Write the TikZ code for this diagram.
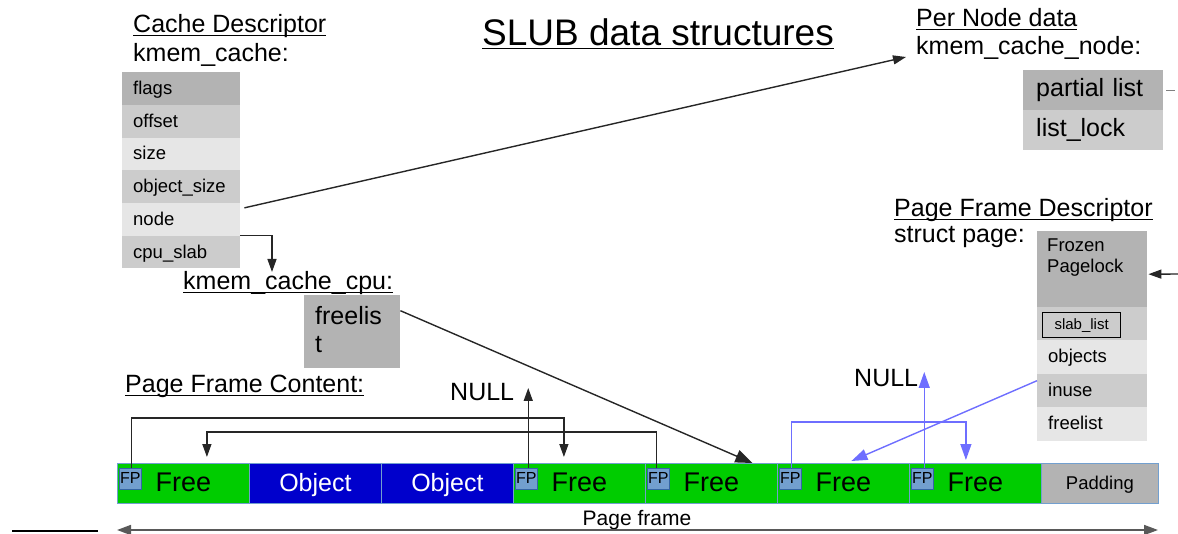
\documentclass[tikz,border=0pt]{standalone}
\usepackage{fontspec}
\setmainfont{Liberation Sans}
\usetikzlibrary{arrows.meta,calc}

\definecolor{gA}{HTML}{B3B3B3}
\definecolor{gB}{HTML}{CCCCCC}
\definecolor{gC}{HTML}{E6E6E6}
\definecolor{frgreen}{HTML}{00CC00}
\definecolor{objblue}{HTML}{0000CC}
\definecolor{fpfill}{HTML}{729FCF}
\definecolor{fpedge}{HTML}{3465A4}
\definecolor{segedge}{HTML}{729FCF}
\definecolor{ptrblue}{HTML}{6E6EFF}

\newcommand\fs[1]{\fontsize{#1}{#1}\selectfont}
\newcommand\ulined[1]{\leavevmode\setbox0\hbox{#1}\copy0\kern-\wd0\rule[-3.5pt]{\wd0}{1.2pt}}

\tikzset{
  heading/.style={anchor=base west, inner sep=0pt, font=\fs{25}},
  field/.style={anchor=north west, inner xsep=11pt, inner ysep=0pt,
    text width=#1, align=left, font=\fs{18.5}, text height=14pt, text depth=2pt},
  bigfield/.style={anchor=north west, inner xsep=13pt, inner ysep=0pt,
    text width=#1, align=left, font=\fs{25}, text height=17pt, text depth=4pt},
  seg/.style={anchor=north west, minimum width=132pt, minimum height=40pt,
    inner sep=0pt, draw=segedge, line width=0.8pt, text height=18pt, text depth=2pt},
  freeseg/.style={seg, fill=frgreen, font=\fs{27}},
  objseg/.style={seg, fill=objblue, text=white, font=\fs{25}},
  fpbox/.style={anchor=north west, minimum width=22pt, minimum height=21pt,
    inner sep=0pt, fill=fpfill, draw=fpedge, line width=0.5pt,
    font=\fs{16}, text height=12pt, text depth=3pt},
  ptr/.style={draw=black!85, line width=1.4pt, -{Triangle[length=13pt,width=9pt]}},
  bptr/.style={draw=ptrblue, line width=1.4pt, -{Triangle[length=16pt,width=11pt]}},
}

\begin{document}
\begin{tikzpicture}[x=1pt, y=-1pt]
\useasboundingbox (0,0) rectangle (1178,534);

% ---------- title ----------
\node[heading, font=\fs{37}] (title) at (482,46) {\ulined{SLUB data structures}};

% ---------- kmem_cache ----------
\node[heading] (kchd1) at (133,33) {\ulined{Cache Descriptor}};
\node[heading] (kchd2) at (133,62) {kmem\_cache:};
\node[field=96pt, fill=gA, minimum height=32.7pt] (kc1) at (122,72)    {flags};
\node[field=96pt, fill=gB, minimum height=32.7pt] (kc2) at (122,104.7) {offset};
\node[field=96pt, fill=gC, minimum height=32.7pt] (kc3) at (122,137.4) {size};
\node[field=96pt, fill=gB, minimum height=32.7pt] (kc4) at (122,170.1) {object\_size};
\node[field=96pt, fill=gC, minimum height=32.7pt] (kc5) at (122,202.8) {node};
\node[field=96pt, fill=gB, minimum height=32.7pt] (kc6) at (122,235.5) {cpu\_slab};

% ---------- kmem_cache_cpu ----------
\node[heading] (cpuhd) at (183,290) {\ulined{kmem\_cache\_cpu:}};
\node[anchor=north west, fill=gA, minimum width=96pt, minimum height=73pt, inner sep=0pt] (fl) at (304,295) {};
\node[anchor=base west, inner sep=0pt, font=\fs{25}] (fltxt1) at (315,325) {freelis};
\node[anchor=base west, inner sep=0pt, font=\fs{25}] (fltxt2) at (315,353) {t};

% ---------- kmem_cache_node ----------
\node[heading] (nodehd1) at (916,27) {\ulined{Per Node data}};
\node[heading] (nodehd2) at (916,55) {kmem\_cache\_node:};
\node[bigfield=114pt, fill=gA, minimum height=40pt] (npartial) at (1023,70)  {partial list};
\node[bigfield=114pt, fill=gB, minimum height=40pt] (nlock)    at (1023,110) {list\_lock};

% ---------- struct page ----------
\node[heading] (pghd1) at (894,217) {\ulined{Page Frame Descriptor}};
\node[heading] (pghd2) at (894,243) {struct page:};
\node[anchor=north west, fill=gA, minimum width=110pt, minimum height=76pt, inner sep=0pt] (pfrozen) at (1037,231) {};
\node[anchor=base west, inner sep=0pt, font=\fs{18.5}] (frz1) at (1047,252) {Frozen};
\node[anchor=base west, inner sep=0pt, font=\fs{18.5}] (frz2) at (1047,273) {Pagelock};
\node[anchor=north west, fill=gB, minimum width=110pt, minimum height=33pt, inner sep=0pt] (pslab) at (1037,307) {};
\node[anchor=north west, draw=black, line width=1.2pt, fill=gB, minimum width=78pt, minimum height=25pt,
      inner sep=0pt, font=\fs{15}, text height=11pt, text depth=3pt] (slabl) at (1042,312) {slab\_list};
\node[field=88pt, fill=gC, minimum height=34pt, text height=13pt] (pobj)   at (1037,340) {objects};
\node[field=88pt, fill=gB, minimum height=33pt, text height=13pt] (pinuse) at (1037,374) {inuse};
\node[field=88pt, fill=gC, minimum height=34pt, text height=13pt] (pfree)  at (1037,407) {freelist};

% ---------- page frame content ----------
\node[heading] (pfchd) at (125,393) {\ulined{Page Frame Content:}};
\node[freeseg] (s1) at (117,463)  {Free};
\node[objseg]  (s2) at (249,463)  {Object};
\node[objseg]  (s3) at (381,463)  {Object};
\node[freeseg] (s4) at (513,463)  {Free};
\node[freeseg] (s5) at (645,463)  {Free};
\node[freeseg] (s6) at (777,463)  {Free};
\node[freeseg] (s7) at (909,463)  {Free};
\node[seg, fill=gA, minimum width=117pt, font=\fs{18.5}, text height=13pt, text depth=1pt] (s8) at (1041,463) {Padding};

\node[fpbox] (fp1) at (119,468) {FP};
\node[fpbox] (fp4) at (515,468) {FP};
\node[fpbox] (fp5) at (647,468) {FP};
\node[fpbox] (fp6) at (779,468) {FP};
\node[fpbox] (fp7) at (911,468) {FP};

\node[heading] (nullA) at (450,400) {NULL};
\node[heading] (nullB) at (854,387) {NULL};

\node[anchor=base, inner sep=0pt, font=\fs{21}] (pftxt) at (637,525) {Page frame};

% ---------- free ends ----------
\coordinate (cpuend) at (272,272);
\coordinate (frzstart) at (1178,274);
\coordinate (pfl) at (117,530);
\coordinate (pfr) at (1158,530);
\coordinate (blA) at (12,531);
\coordinate (blB) at (98,531);

% ---------- pointers ----------
\draw[ptr] ([xshift=4pt,yshift=11.5pt]kc5.east) -- ([xshift=-10pt,yshift=-2pt]nodehd2.base west);
\draw[ptr] (kc6.north east) -| (cpuend);
\draw[draw=black!85, line width=1.4pt, -{Triangle[length=17pt,width=13pt]}]
  ([yshift=21pt]fl.east) -- ([xshift=41pt]s5.north);
\draw[ptr] (frzstart) -- ([xshift=1pt,yshift=-5pt]pfrozen.east);
\draw[draw=gray, line width=1pt] ([xshift=3pt]npartial.east) -- ++(9,0);

% freelist chain inside the page
\draw[ptr] ([xshift=1pt]fp1.north) -- ++(0,-50) -| ([xshift=-15.5pt,yshift=6pt]s4.north);
\draw[ptr] ([xshift=-2pt]fp5.north) -- ++(0,-36) -| ([xshift=23.5pt,yshift=6pt]s1.north);
\draw[ptr] ([xshift=2pt]fp4.north) -- ++(0,-80);

\draw[bptr] ([xshift=1pt]fp6.north) -- ++(0,-46) -| ([xshift=-9.5pt,yshift=3pt]s7.north);
\draw[bptr] ([xshift=2pt]fp7.north) -- ++(0,-96);
\draw[bptr] ([yshift=10pt]pinuse.west) -- ([xshift=8pt,yshift=2pt]s6.north);

% page frame extent
\draw[draw=gray!70!black, line width=1.6pt, {Triangle[length=14pt,width=10pt]}-{Triangle[length=14pt,width=10pt]}] (pfl) -- (pfr);
\draw[line width=2pt] (blA) -- (blB);
\end{tikzpicture}
\end{document}
